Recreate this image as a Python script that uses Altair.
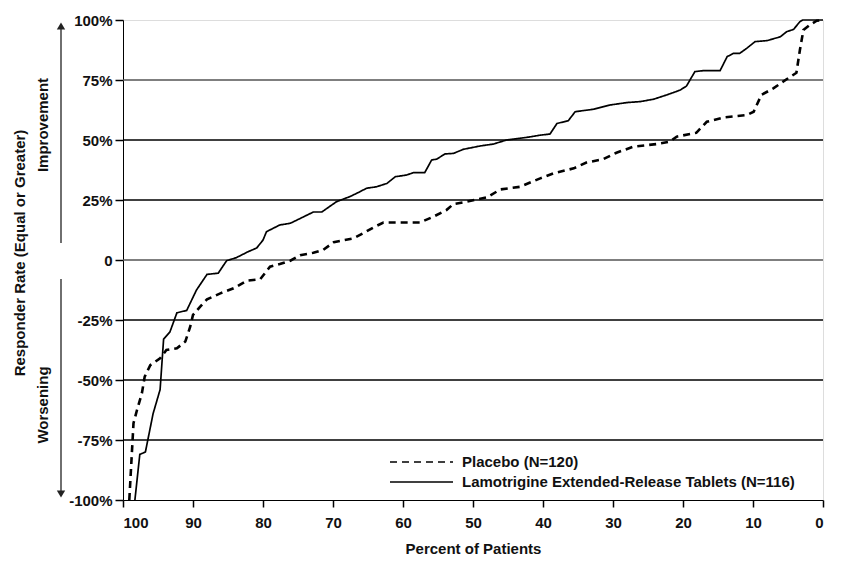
import altair as alt
import pandas as pd

# ---------------- data ----------------
lam_x = [98.3, 97.6, 96.8, 95.7, 94.7, 94.2, 93.3, 92.3, 90.9, 89.5, 88.0, 86.4, 85.2, 83.8,
         82.1, 80.9, 80.0, 79.5, 77.6, 76.1, 74.2, 72.8, 71.6, 69.5, 67.6, 66.6, 65.2, 63.8,
         62.3, 61.1, 59.5, 58.5, 56.9, 55.9, 55.2, 54.0, 52.8, 51.4, 49.0, 47.1, 45.2, 42.3,
         40.4, 39.0, 38.0, 36.4, 35.4, 32.8, 30.4, 28.0, 26.1, 24.2, 22.3, 20.4, 19.5, 18.3,
         17.1, 14.7, 13.7, 12.8, 11.9, 10.9, 9.7, 8.0, 6.1, 5.2, 4.2, 3.3, 2.9, 0.0]
lam_y = [-100, -81, -80, -64, -54, -33, -30, -22, -21, -12.5, -6, -5.5, -0.3, 1,
         3.5, 5, 8.3, 11.8, 14.6, 15.3, 18, 20, 20, 24.3, 26.4, 27.8, 29.9, 30.5,
         31.9, 34.7, 35.4, 36.4, 36.4, 41.7, 42, 44.2, 44.4, 46.1, 47.5, 48.3, 50, 51.1,
         52, 52.5, 56.9, 58, 61.8, 62.8, 64.6, 65.6, 66, 67, 68.8, 70.8, 72.5, 78.5,
         78.9, 78.9, 84.7, 86.1, 86.1, 88.2, 91, 91.4, 93, 95.1, 96.1, 99.3, 100, 100]

pla_x = [99.1, 98.5, 98.0, 97.3, 96.9, 96.1, 94.7, 93.8, 92.3, 91.1, 90.4, 90.0, 89.0, 88.0,
         86.1, 84.2, 82.3, 80.4, 79.0, 77.6, 76.1, 74.7, 72.8, 71.4, 69.9, 67.1, 65.7, 64.2,
         62.8, 57.6, 55.7, 53.8, 52.8, 50.9, 48.0, 46.1, 43.3, 40.4, 38.5, 35.6, 33.8, 31.4,
         29.5, 27.1, 23.8, 21.9, 20.9, 18.1, 16.6, 14.2, 10.9, 9.9, 8.8, 7.1, 5.2, 3.8,
         3.3, 2.8, 1.9, 0.9, 0.0]
pla_y = [-100, -68, -62.5, -55.5, -48.6, -43.8, -41, -37.5, -36.8, -34, -27.8, -22.9, -19.5, -16.4,
         -13.9, -11.8, -8.6, -8, -2.8, -1.7, -0.3, 2, 3, 4.2, 7.4, 9, 11.1, 13.6,
         15.6, 15.6, 18, 20.8, 23.3, 24.3, 26.1, 29.4, 30.5, 34, 36.1, 38.2, 40.6, 42,
         44.7, 47.2, 48.3, 49.3, 51.4, 53, 57.6, 59.4, 60.4, 61.8, 68.8, 71.5, 75.3, 78,
         87.5, 95.8, 97.9, 99.7, 100]

series_names = ["Placebo (N=120)", "Lamotrigine Extended-Release Tablets (N=116)"]
x_ticks = [100, 90, 80, 70, 60, 50, 40, 30, 20, 10, 0]
y_ticks = [-100, -75, -50, -25, 0, 25, 50, 75, 100]
grid_vals = [75, 50, 25, 0, -25, -50, -75]
grid_cols = ["#555555", "#000000", "#000000", "#555555", "#000000", "#000000", "#000000"]
y_title = "Responder Rate (Equal or Greater)"
up_label = "Improvement"
down_label = "Worsening"
x_title = "Percent of Patients"

FONT = "Liberation Sans"
FS = 15
FW = "bold"
TC = "#111111"

df = pd.concat([
    pd.DataFrame({"pct": pla_x, "rate": pla_y, "series": series_names[0], "order": range(len(pla_x))}),
    pd.DataFrame({"pct": lam_x, "rate": lam_y, "series": series_names[1], "order": range(len(lam_x))}),
])
grid_df = pd.DataFrame({"rate": grid_vals, "col": grid_cols})
one = pd.DataFrame({"a": [0]})

xscale = alt.Scale(domain=[0, 100], reverse=True, nice=False, zero=False)
yscale = alt.Scale(domain=[-100, 100], nice=False, zero=False)

grid = alt.Chart(grid_df).mark_rule(strokeWidth=1.4).encode(
    y=alt.Y("rate:Q", scale=yscale),
    color=alt.Color("col:N", scale=None),
)

lines = alt.Chart(df).mark_line(color="black", clip=False).encode(
    x=alt.X("pct:Q", scale=xscale,
            axis=alt.Axis(values=x_ticks, title=x_title, grid=False, tickSize=7,
                          tickColor="black", domainColor="black", tickWidth=1.5,
                          labelFont=FONT, labelFontSize=FS, labelFontWeight=FW, labelColor=TC,
                          labelPadding=8, titleFont=FONT, titleFontSize=FS,
                          titleFontWeight=FW, titleColor=TC, titlePadding=11)),
    y=alt.Y("rate:Q", scale=yscale,
            axis=alt.Axis(values=y_ticks, title=None, grid=False, tickSize=8,
                          tickColor="black", domainColor="black", tickWidth=1.5,
                          labelExpr="datum.value == 0 ? '0' : datum.value + '%'",
                          labelFont=FONT, labelFontSize=FS, labelFontWeight=FW, labelColor=TC,
                          labelPadding=3)),
    strokeDash=alt.StrokeDash("series:N", scale=alt.Scale(domain=series_names,
                              range=[[7, 5], [1, 0]]), legend=None),
    strokeWidth=alt.StrokeWidth("series:N", scale=alt.Scale(domain=series_names,
                                range=[2.6, 1.7]), legend=None),
    order="order:Q",
)

# legend (drawn by hand)
leg_dash = alt.Chart(one).mark_rule(color="black", strokeWidth=1.6, strokeDash=[7, 5]).encode(
    x=alt.value(267), x2=alt.value(330), y=alt.value(442))
leg_solid = alt.Chart(one).mark_rule(color="black", strokeWidth=1.6).encode(
    x=alt.value(267), x2=alt.value(330), y=alt.value(462))
leg_t1 = alt.Chart(one).mark_text(text=series_names[0], align="left", baseline="middle",
                                  font=FONT, fontSize=FS, fontWeight=FW, color=TC).encode(
    x=alt.value(339), y=alt.value(442))
leg_t2 = alt.Chart(one).mark_text(text=series_names[1], align="left", baseline="middle",
                                  font=FONT, fontSize=FS, fontWeight=FW, color=TC).encode(
    x=alt.value(339), y=alt.value(462))

# y-axis annotations
t_title = alt.Chart(one).mark_text(text=y_title, angle=270, align="center", baseline="middle",
                                   font=FONT, fontSize=FS, fontWeight=FW, color=TC).encode(
    x=alt.value(-103), y=alt.value(233))
t_up = alt.Chart(one).mark_text(text=up_label, angle=270, align="center", baseline="middle",
                                font=FONT, fontSize=FS, fontWeight=FW, color=TC).encode(
    x=alt.value(-80), y=alt.value(105))
t_down = alt.Chart(one).mark_text(text=down_label, angle=270, align="center", baseline="middle",
                                  font=FONT, fontSize=FS, fontWeight=FW, color=TC).encode(
    x=alt.value(-80), y=alt.value(385))
arr_up = alt.Chart(one).mark_rule(color="#222", strokeWidth=1.3).encode(
    x=alt.value(-62), y=alt.value(6), y2=alt.value(223))
arr_dn = alt.Chart(one).mark_rule(color="#222", strokeWidth=1.3).encode(
    x=alt.value(-62), y=alt.value(259), y2=alt.value(474))
head_up = alt.Chart(one).mark_point(shape="triangle-up", filled=True, color="#222",
                                    size=70, opacity=1).encode(
    x=alt.value(-62), y=alt.value(6))
head_dn = alt.Chart(one).mark_point(shape="triangle-down", filled=True, color="#222",
                                    size=70, opacity=1).encode(
    x=alt.value(-62), y=alt.value(474))

chart = alt.layer(
    grid, lines, leg_dash, leg_solid, leg_t1, leg_t2,
    t_title, t_up, t_down, arr_up, arr_dn, head_up, head_dn,
).properties(
    width=700, height=480,
    autosize=alt.AutoSizeParams(type="none"),
    padding={"left": 115, "top": 12, "right": 21, "bottom": 57},
).configure_view(stroke="black", strokeWidth=1.5).configure(background="white")

chart.save("out.html", embed_options={"renderer": "svg", "actions": False})
